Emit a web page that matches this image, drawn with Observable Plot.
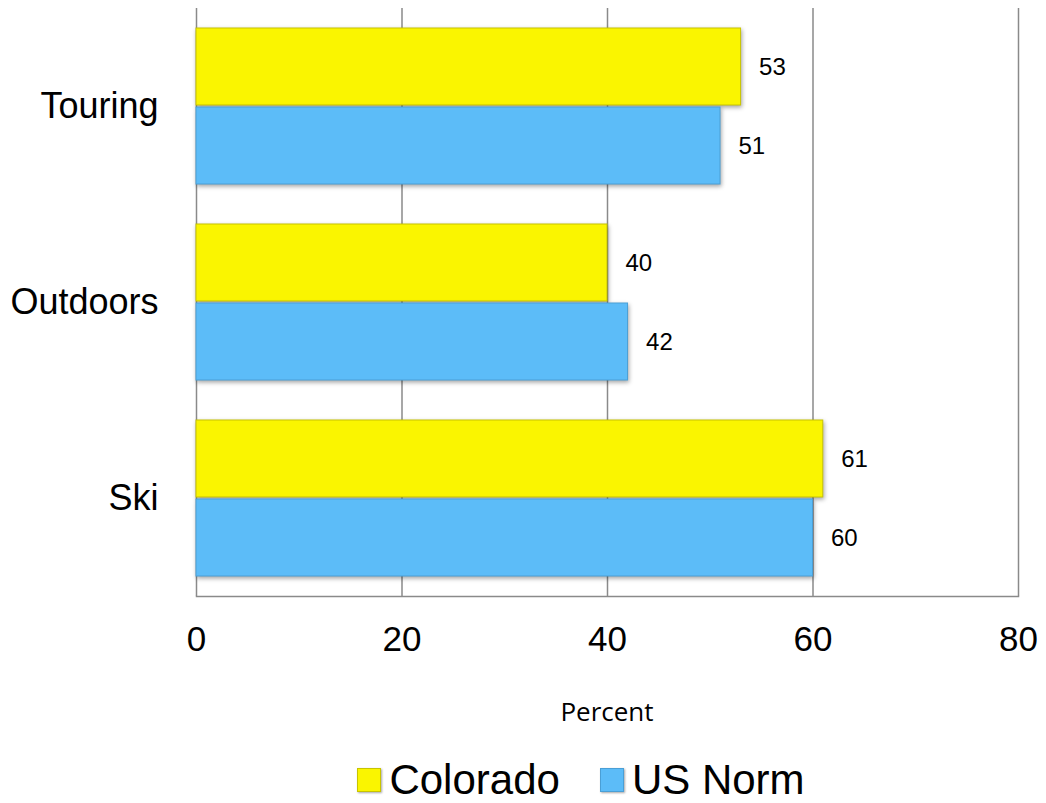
<!DOCTYPE html>
<html>
<head>
<meta charset="utf-8">
<script src="https://cdn.jsdelivr.net/npm/d3@7"></script>
<script src="https://cdn.jsdelivr.net/npm/@observablehq/plot@0.6"></script>
<style>
  html, body { margin: 0; padding: 0; background: #fff; }
  body { width: 1046px; height: 803px; position: relative; font-family: "Liberation Sans", Arial, sans-serif; }
  #chart svg { display: block; }
  g[aria-label^="fy-axis"] text { font-size: 36px; fill: #000; }
  g[aria-label^="x-axis"] text { font-size: 35px; fill: #000; }
  g[aria-label="bar"] rect { filter: drop-shadow(1px 2px 2px rgba(0,0,0,0.35)); }
  #xlabel { position: absolute; left: 196px; width: 822px; top: 693px; text-align: center;
            font-family: "Open Sans", sans-serif; font-size: 26px; color: #000; }
  #legend { position: absolute; left: 0; width: 1046px; top: 755px; text-align: center;
            box-sizing: border-box; padding-left: 116px;
            font-size: 42px; color: #000; line-height: 46px; }
  #legend span.item { display: inline-flex; align-items: center; margin: 0 20px; }
  #legend span.sw { display: inline-block; width: 22px; height: 22px; margin-right: 8px;
                    box-shadow: 1px 1px 2px rgba(0,0,0,0.35); }
</style>
</head>
<body>
<div id="chart"></div>
<div id="xlabel">Percent</div>
<div id="legend"></div>
<script>
const categories = ["Touring", "Outdoors", "Ski"];
const series = ["Colorado", "US Norm"];
const colorado = [53, 40, 61];
const usNorm = [51, 42, 60];
const colors = ["#faf500", "#5cbcf8"];
const strokes = ["#c8c400", "#4a9fd6"];
const xTicks = [0, 20, 40, 60, 80];

const rows = [];
categories.forEach((c, i) => {
  rows.push({category: c, series: series[0], value: colorado[i]});
  rows.push({category: c, series: series[1], value: usNorm[i]});
});

function build(superFacet) {
  const marks = superFacet ? [
    Plot.gridX(xTicks, {facet: "super", stroke: "#8a8a8a", strokeOpacity: 1, strokeWidth: 1.5}),
    Plot.frame({anchor: "bottom", facet: "super", stroke: "#8a8a8a", strokeWidth: 1.5})
  ] : [
    Plot.gridX(xTicks, {stroke: "#8a8a8a", strokeOpacity: 1, strokeWidth: 1.5}),
    Plot.frame({anchor: "bottom", fy: [categories[categories.length - 1]], stroke: "#8a8a8a", strokeWidth: 1.5})
  ];
  marks.push(
    Plot.axisX(xTicks, {anchor: "bottom", tickSize: 0, tickPadding: 30, label: null, fill: "#000"}),
    Plot.barX(rows, {x: "value", y: "series", fill: "series", stroke: d => strokes[series.indexOf(d.series)], strokeWidth: 1}),
    Plot.text(rows, {x: "value", y: "series", text: d => String(d.value), textAnchor: "start", dx: 18, fontSize: 24, fill: "#000"})
  );
  return Plot.plot({
    width: 1046,
    height: 670,
    marginLeft: 196,
    marginRight: 28,
    marginTop: superFacet ? 0 : 7,
    marginBottom: 73,
    style: {fontFamily: "Liberation Sans, Arial, sans-serif", background: "#fff"},
    facet: {data: rows, y: "category"},
    fy: superFacet
      ? {domain: categories, padding: 0, insetTop: 7, label: null, tickSize: 0, tickPadding: 38}
      : {domain: categories, padding: 0, label: null, tickSize: 0, tickPadding: 38},
    y: {domain: series, paddingInner: 0.03, paddingOuter: 0.247, axis: null},
    x: {domain: [0, 80], label: null},
    color: {domain: series, range: colors},
    marks
  });
}
let chart;
try { chart = build(true); }
catch (e) { chart = build(false); }
document.getElementById("chart").appendChild(chart);

const legend = document.getElementById("legend");
series.forEach((s, i) => {
  const item = document.createElement("span");
  item.className = "item";
  const sw = document.createElement("span");
  sw.className = "sw";
  sw.style.background = colors[i];
  sw.style.border = "1px solid " + strokes[i];
  item.appendChild(sw);
  item.appendChild(document.createTextNode(s));
  legend.appendChild(item);
});
</script>
</body>
</html>
